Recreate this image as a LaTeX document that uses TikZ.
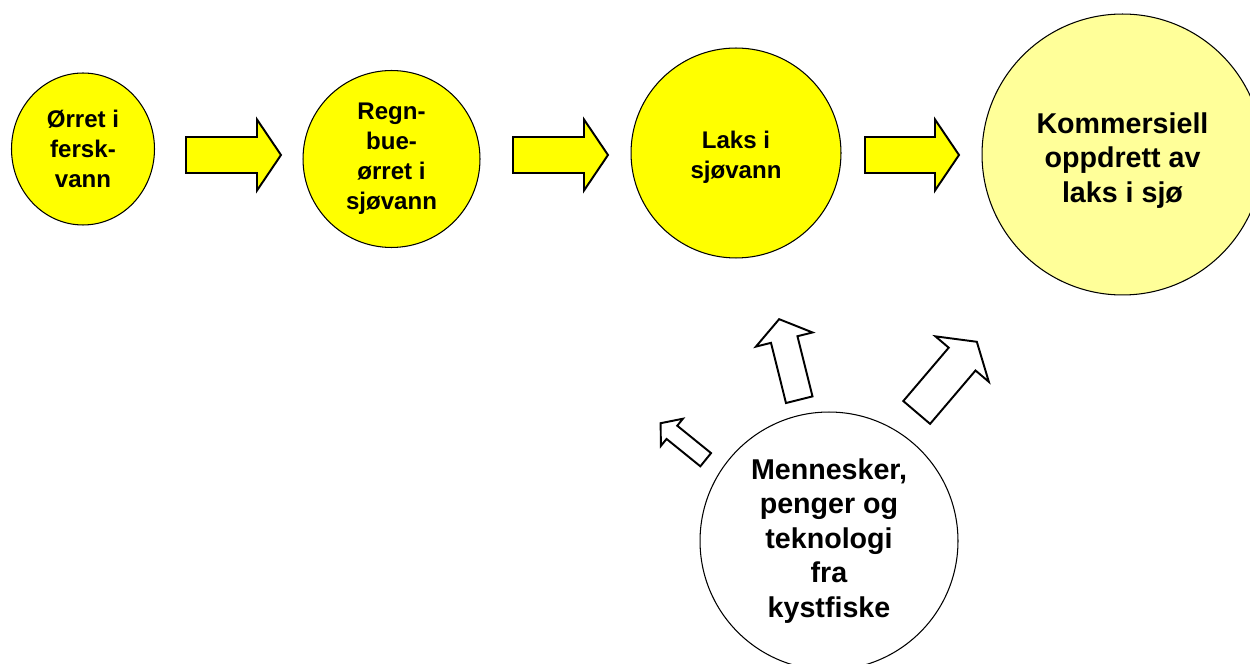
\documentclass[tikz,border=0pt]{standalone}
\usepackage{fontspec}
\setmainfont{Liberation Sans}
\usetikzlibrary{shapes.geometric,calc}

\definecolor{gul}{RGB}{255,255,0}
\definecolor{lysgul}{RGB}{255,255,153}

% block arrow: [style]{base}{angle}{length}{head length}{shaft width}{head width}
\newcommand{\blokkpil}[7][]{%
  \draw[#1, shift={(#2)}, rotate=#3]
    (0,{-#6/2}) -- ({#4-#5},{-#6/2}) -- ({#4-#5},{-#7/2}) -- (#4,0)
    -- ({#4-#5},{#7/2}) -- ({#4-#5},{#6/2}) -- (0,{#6/2}) -- cycle;}

\begin{document}
\begin{tikzpicture}[x=0.02cm, y=0.02cm,
    boble/.style={draw, line width=0.6pt, align=center, inner sep=0pt,
                  font=\bfseries\fontsize{13.7}{17}\selectfont},
    stor/.style={boble, font=\bfseries\fontsize{16.3}{19.6}\selectfont},
    tekst/.style={draw=none, fill=none},
    gulpil/.style={draw, fill=gul, line width=1.1pt, line join=miter},
    hulpil/.style={draw, fill=white, line width=1.1pt, line join=miter}]
	\useasboundingbox (0,0) rectangle (1250,663);

	% Nodes {orret, regnbue, laks, oppdrett, kyst}
	\node [boble, ellipse, fill=gul, minimum width=2.86cm, minimum height=3.04cm]
	      (orret)    at (83,514)     {Ørret i\\fersk-\\vann};
	\node [boble, circle, fill=gul, minimum size=3.54cm]
	      (regnbue)  at (391.5,504)  {Regn-\\bue-\\ørret i\\sjøvann};
	\node [boble, circle, fill=gul, minimum size=4.2cm]
	      (laks)     at (736,510)    {};
	\node [boble, tekst] (laks-tekst) at ($(laks.center)+(0,-4)$) {Laks i\\sjøvann};
	\node [stor, circle, fill=lysgul, minimum size=5.62cm]
	      (oppdrett) at (1122.5,508.5) {};
	\node [stor, tekst] (oppdrett-tekst) at ($(oppdrett.center)+(0,-6)$)
	      {Kommersiell\\oppdrett av\\laks i sjø};
	\node [stor, circle, fill=white, minimum size=5.16cm]
	      (kyst)     at (829,122)    {Mennesker,\\penger og\\teknologi\\fra\\kystfiske};

	% Arrows along the row
	\blokkpil[gulpil]{186,508}{0}{95}{24}{36}{71}
	\blokkpil[gulpil]{513,508}{0}{95}{24}{36}{71}
	\blokkpil[gulpil]{865,508}{0}{94}{24}{36}{71}

	% Arrows out of kyst
	\blokkpil[hulpil]{$(kyst.center)+(146.6:147.7)$}{141}{58}{14.5}{17}{35}
	\blokkpil[hulpil]{$(kyst.center)+(101.9:144.4)$}{104}{83}{21}{27.3}{58.4}
	\blokkpil[hulpil]{$(kyst.center)+(55.7:155.6)$}{49.6}{92.8}{22.7}{35.2}{70.2}
\end{tikzpicture}
\end{document}
